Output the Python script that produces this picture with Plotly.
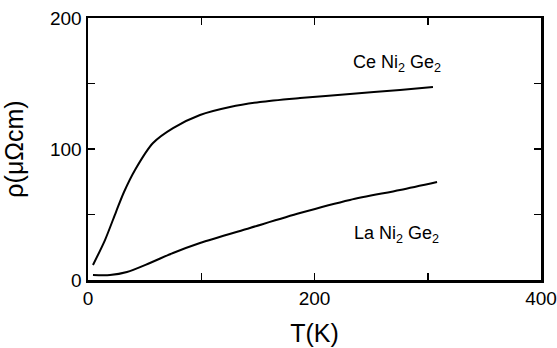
import plotly.graph_objects as go

# CeNi2Ge2 resistivity (T in K, rho in micro-ohm cm)
ce_T = [4.4, 15.0, 24.7, 31.8, 41.5, 57.4, 75.1, 98.9, 125.4, 151.9, 187.2, 231.3, 275.5, 304.6]
ce_rho = [11.5, 30.5, 51.9, 67.2, 84.0, 104.6, 116.0, 126.0, 132.1, 135.9, 138.9, 142.0, 145.0, 147.3]

# LaNi2Ge2 resistivity
la_T = [4.4, 19.4, 34.4, 54.7, 75.1, 98.9, 143.0, 187.2, 231.3, 275.5, 308.2]
la_rho = [3.8, 3.8, 6.1, 13.0, 20.6, 28.2, 39.7, 51.1, 61.1, 68.7, 74.8]

x_tickvals = [0, 100, 200, 300, 400]
x_ticktext = ["0", "", "200", "", "400"]
y_tickvals = [0, 50, 100, 150, 200]
y_ticktext = ["0", "", "100", "", "200"]

FONT = "Liberation Sans, Arial, sans-serif"

fig = go.Figure()
fig.add_trace(go.Scatter(x=ce_T, y=ce_rho, mode="lines", line=dict(color="black", width=2, shape="spline", smoothing=0.8),
                         name="CeNi2Ge2", showlegend=False))
fig.add_trace(go.Scatter(x=la_T, y=la_rho, mode="lines", line=dict(color="black", width=2, shape="spline", smoothing=0.8),
                         name="LaNi2Ge2", showlegend=False))

fig.add_annotation(x=272.8, y=165.6, text="Ce Ni<sub>2</sub> Ge<sub>2</sub>", showarrow=False,
                   font=dict(family=FONT, size=18, color="black"))
fig.add_annotation(x=272.8, y=34.4, text="La Ni<sub>2</sub> Ge<sub>2</sub>", showarrow=False,
                   font=dict(family=FONT, size=18, color="black"))

fig.update_xaxes(range=[0, 400], tickvals=x_tickvals, ticktext=x_ticktext,
                 showline=True, linecolor="black", linewidth=2.5, mirror="ticks",
                 ticks="inside", ticklen=7, tickwidth=1.5, tickcolor="black",
                 showgrid=False, zeroline=False, ticklabeloverflow="allow",
                 tickfont=dict(family=FONT, size=19, color="black"),
                 title=dict(text="T(K)", font=dict(family=FONT, size=25, color="black"), standoff=16))
fig.update_yaxes(range=[0, 200], tickvals=y_tickvals, ticktext=y_ticktext,
                 showline=True, linecolor="black", linewidth=2.5, mirror="ticks",
                 ticks="inside", ticklen=7, tickwidth=1.5, tickcolor="black",
                 showgrid=False, zeroline=False, ticklabeloverflow="allow",
                 tickfont=dict(family=FONT, size=19, color="black"),
                 title=dict(text="ρ(μΩcm)", font=dict(family=FONT, size=25, color="black"), standoff=19))

fig.update_layout(width=557, height=348, margin=dict(l=88, r=16, t=18, b=68, autoexpand=False),
                  plot_bgcolor="white", paper_bgcolor="white", hovermode=False)

fig.write_html("out.html", config={"displayModeBar": False, "staticPlot": True},
               post_script="document.body.style.margin='0';document.body.style.overflow='hidden';")
